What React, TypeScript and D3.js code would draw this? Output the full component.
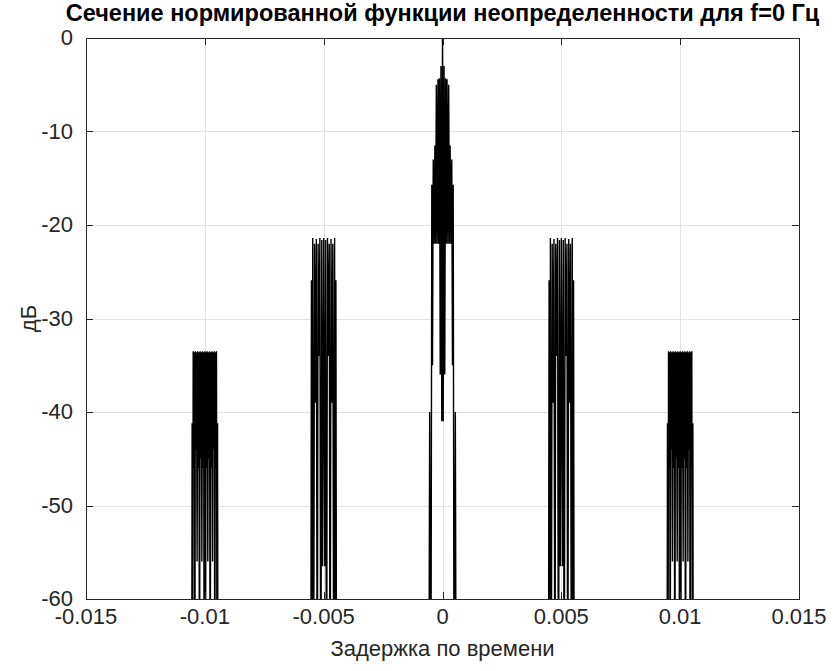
import React, { useEffect, useRef } from "react";
import * as d3 from "d3";

const width = 834,
  height = 671;
const margin = { top: 38, right: 35, bottom: 72, left: 86 };

// centres of the five lobes, seconds
const clusterCenters = [-0.01, -0.005, 0, 0.005, 0.01];

// main lobe (tau = 0): offsets in microseconds, level in dB
const mainOffsetsUs = [-580, -540, -490, -450, -420, -390, -355, -320, -290, -260, -225, -190, -160, -130, -95, -65, -30, 0, 30, 65, 95, 130, 160, 190, 225, 260, 290, 320, 355, 390, 420, 450, 490, 540, 580];
const mainDb = [-80, -40, -80, -15.7, -35, -13, -22, -11.5, -22, -5, -22, -4.4, -22, -4.3, -36, -3, -41, 0, -41, -3, -36, -4.3, -22, -4.4, -22, -5, -22, -11.5, -22, -13, -35, -15.7, -80, -40, -80];

// lobes at +-0.005
const sideOffsetsUs = [-545, -515, -490, -460, -425, -385, -350, -310, -270, -235, -200, -160, -120, -80, -45, 0, 45, 80, 120, 160, 200, 235, 270, 310, 350, 385, 425, 460, 490, 515, 545];
const sideDb = [-80, -25.9, -80, -21.4, -80, -22, -39, -21.5, -80, -22, -34, -21.4, -80, -21.6, -56.5, -21.4, -56.5, -21.6, -80, -21.4, -34, -22, -80, -21.5, -39, -22, -80, -21.4, -80, -25.9, -80];

// lobes at +-0.01
const outerOffsetsUs = [-555, -535, -515, -490, -465, -440, -420, -400, -375, -350, -325, -300, -275, -250, -225, -200, -175, -150, -125, -100, -75, -50, -25, 0, 25, 50, 75, 100, 125, 150, 175, 200, 225, 250, 275, 300, 325, 350, 375, 400, 420, 440, 465, 490, 515, 535, 555];
const outerDb = [-80, -41.2, -80, -33.5, -46, -33.6, -80, -33.5, -44, -33.6, -56, -33.5, -46, -33.6, -80, -33.5, -45, -33.6, -56, -33.5, -46, -33.6, -80, -33.5, -80, -33.6, -46, -33.5, -56, -33.6, -45, -33.5, -80, -33.6, -46, -33.5, -56, -33.6, -44, -33.5, -80, -33.6, -46, -33.5, -80, -41.2, -80];

const xTicks = [-0.015, -0.01, -0.005, 0, 0.005, 0.01, 0.015];
const yTicks = [0, -10, -20, -30, -40, -50, -60];

const title = "Сечение нормированной функции неопределенности для f=0 Гц";
const xLabel = "Задержка по времени";
const yLabel = "дБ";

const font = "'Liberation Sans', Arial, sans-serif";

export default function App() {
  const ref = useRef<SVGSVGElement>(null);

  useEffect(() => {
    const svg = d3.select(ref.current);
    svg.selectAll("*").remove();

    const x = d3
      .scaleLinear()
      .domain([-0.015, 0.015])
      .range([margin.left, width - margin.right]);
    const y = d3
      .scaleLinear()
      .domain([-60, 0])
      .range([height - margin.bottom, margin.top]);

    const x0 = margin.left,
      x1 = width - margin.right,
      y0 = margin.top,
      y1 = height - margin.bottom;

    svg.append("rect").attr("width", width).attr("height", height).attr("fill", "#fff");

    //сетка
    const grid = svg.append("g").attr("stroke", "#e2e2e2").attr("stroke-width", 1);
    grid
      .selectAll("line.gx")
      .data(xTicks)
      .join("line")
      .attr("x1", d => Math.round(x(d)) + 0.5)
      .attr("x2", d => Math.round(x(d)) + 0.5)
      .attr("y1", y0)
      .attr("y2", y1);
    grid
      .selectAll("line.gy")
      .data(yTicks)
      .join("line")
      .attr("y1", d => Math.round(y(d)) + 0.5)
      .attr("y2", d => Math.round(y(d)) + 0.5)
      .attr("x1", x0)
      .attr("x2", x1);

    svg
      .append("clipPath")
      .attr("id", "plotArea")
      .append("rect")
      .attr("x", x0)
      .attr("y", y0)
      .attr("width", x1 - x0)
      .attr("height", y1 - y0);

    const line = d3
      .line<[number, number]>()
      .x(d => x(d[0]))
      .y(d => y(d[1]));

    const lobes = clusterCenters.map(c => {
      const a = Math.abs(c);
      const offs = a === 0 ? mainOffsetsUs : a < 0.007 ? sideOffsetsUs : outerOffsetsUs;
      const vals = a === 0 ? mainDb : a < 0.007 ? sideDb : outerDb;
      return offs.map((o, i) => [c + o * 1e-6, vals[i]] as [number, number]);
    });

    svg
      .append("g")
      .attr("clip-path", "url(#plotArea)")
      .selectAll("path")
      .data(lobes)
      .join("path")
      .attr("d", line)
      .attr("fill", "none")
      .attr("stroke", "#000")
      .attr("stroke-width", 1.4);

    //рамка и засечки
    const axisColor = "#262626";
    svg
      .append("rect")
      .attr("x", x0 + 0.5)
      .attr("y", y0 + 0.5)
      .attr("width", x1 - x0)
      .attr("height", y1 - y0)
      .attr("fill", "none")
      .attr("stroke", axisColor);

    const tickLen = 7;
    const ticks = svg.append("g").attr("stroke", axisColor);
    xTicks.forEach(t => {
      const px = Math.round(x(t)) + 0.5;
      ticks.append("line").attr("x1", px).attr("x2", px).attr("y1", y1).attr("y2", y1 - tickLen);
      ticks.append("line").attr("x1", px).attr("x2", px).attr("y1", y0).attr("y2", y0 + tickLen);
    });
    yTicks.forEach(t => {
      const py = Math.round(y(t)) + 0.5;
      ticks.append("line").attr("x1", x0).attr("x2", x0 + tickLen).attr("y1", py).attr("y2", py);
      ticks.append("line").attr("x1", x1).attr("x2", x1 - tickLen).attr("y1", py).attr("y2", py);
    });

    svg
      .append("g")
      .attr("font-family", font)
      .attr("font-size", 22)
      .attr("fill", axisColor)
      .attr("text-anchor", "middle")
      .selectAll("text")
      .data(xTicks)
      .join("text")
      .attr("x", d => x(d))
      .attr("y", y1 + 25)
      .text(d => d3.format("")(d).replace("−", "-"));

    svg
      .append("g")
      .attr("font-family", font)
      .attr("font-size", 22)
      .attr("fill", axisColor)
      .attr("text-anchor", "end")
      .selectAll("text")
      .data(yTicks)
      .join("text")
      .attr("x", x0 - 13)
      .attr("y", d => y(d) + 7)
      .text(d => String(d));

    svg
      .append("text")
      .attr("x", (x0 + x1) / 2)
      .attr("y", y1 + 57)
      .attr("text-anchor", "middle")
      .attr("font-family", font)
      .attr("font-size", 22)
      .attr("fill", axisColor)
      .text(xLabel);

    svg
      .append("text")
      .attr("transform", `translate(${x0 - 50},${(y0 + y1) / 2}) rotate(-90)`)
      .attr("text-anchor", "middle")
      .attr("font-family", font)
      .attr("font-size", 22)
      .attr("fill", axisColor)
      .text(yLabel);

    svg
      .append("text")
      .attr("x", (x0 + x1) / 2)
      .attr("y", 21)
      .attr("text-anchor", "middle")
      .attr("font-family", font)
      .attr("font-size", 23.5)
      .attr("font-weight", "bold")
      .attr("fill", "#000")
      .text(title);
  }, []);

  return (
    <svg
      ref={ref}
      width={width}
      height={height}
      style={{ position: "absolute", left: 0, top: 0, display: "block" }}
    />
  );
}
